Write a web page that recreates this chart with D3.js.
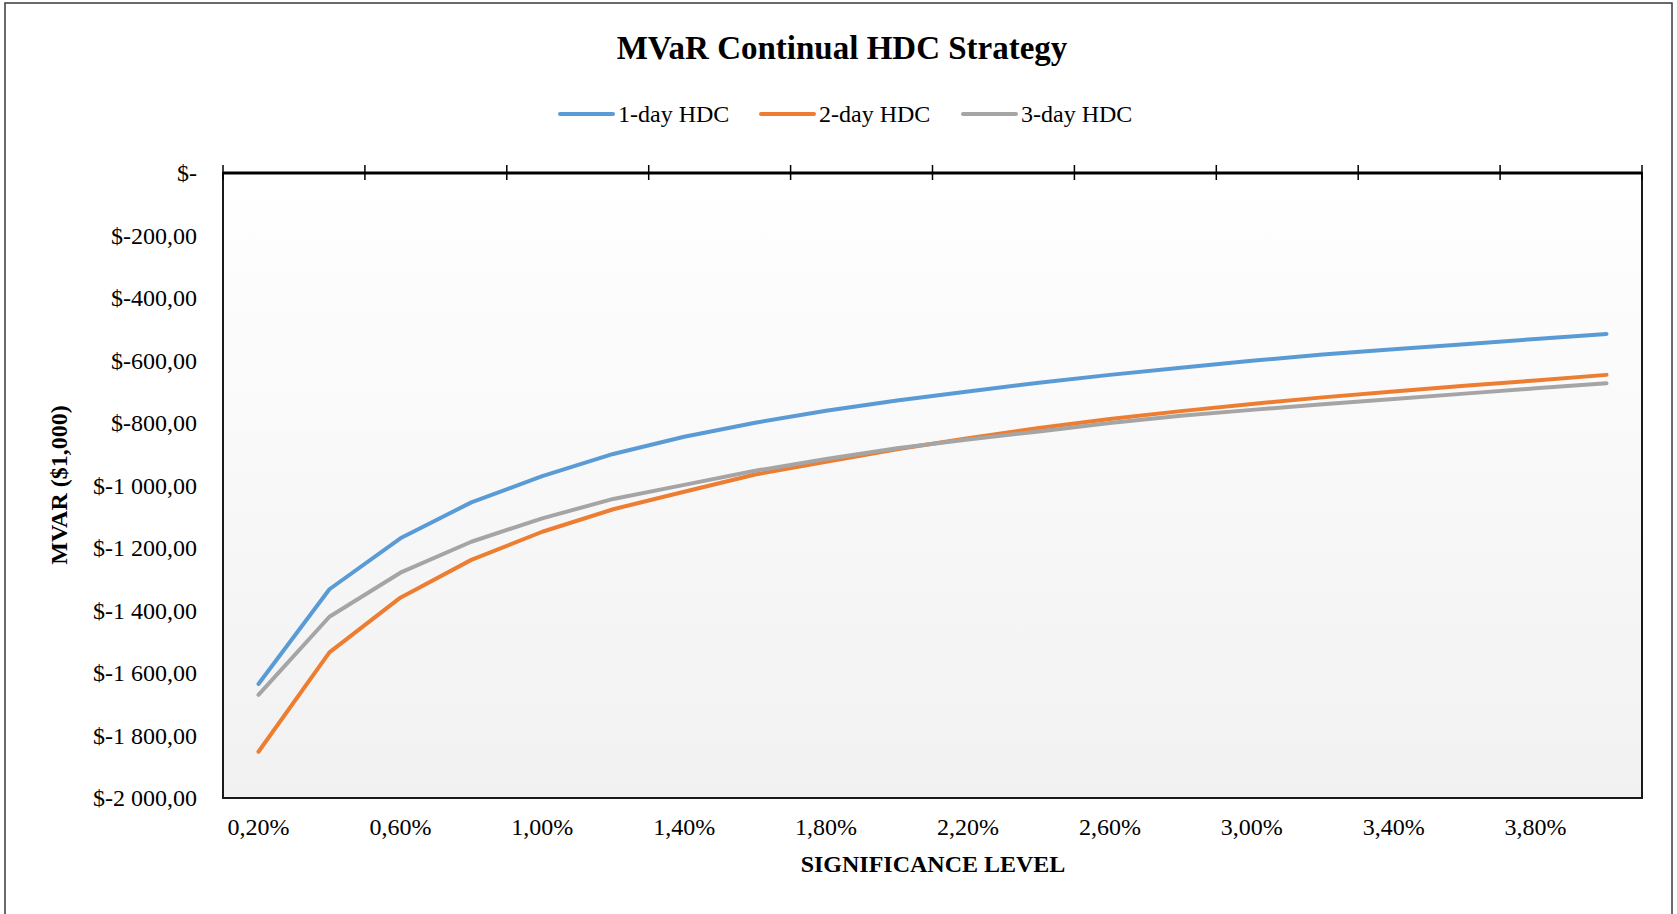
<!DOCTYPE html>
<html>
<head>
<meta charset="utf-8">
<script src="https://cdn.jsdelivr.net/npm/d3@7/dist/d3.min.js"></script>
<style>
  html, body { margin: 0; padding: 0; background: #ffffff; }
  svg { display: block; }
  text { font-family: "Liberation Serif", "Times New Roman", serif; fill: #000; }
</style>
</head>
<body>
<svg id="chart" width="1677" height="914"></svg>
<script>
// ---- data ----
const categories = ["0,20%","0,40%","0,60%","0,80%","1,00%","1,20%","1,40%","1,60%","1,80%","2,00%",
                    "2,20%","2,40%","2,60%","2,80%","3,00%","3,20%","3,40%","3,60%","3,80%","4,00%"];
const seriesNames = ["1-day HDC", "2-day HDC", "3-day HDC"];
const hdc1 = [-1635,-1332,-1169,-1054,-970,-899,-844,-799,-761,-728,-699,-671,-646,-623,-601,-581,-564,-548,-531,-515];
const hdc2 = [-1852,-1534,-1359,-1238,-1148,-1076,-1020,-965,-924,-884,-849,-816,-787,-762,-739,-718,-699,-681,-664,-646];
const hdc3 = [-1670,-1420,-1279,-1180,-1105,-1043,-998,-953,-915,-881,-853,-827,-800,-777,-758,-740,-723,-706,-689,-673];
const yTicks = [0,-200,-400,-600,-800,-1000,-1200,-1400,-1600,-1800,-2000];
const colors = ["#5B9BD5", "#ED7D31", "#A5A5A5"];

// ---- layout ----
const svg = d3.select("#chart");
const W = 1677, H = 914;
const plot = {left: 223, right: 1642, top: 173, bottom: 798};

svg.append("rect").attr("x",0).attr("y",0).attr("width",W).attr("height",H).attr("fill","#fff");
// outer chart border
svg.append("rect").attr("x",5).attr("y",3).attr("width",1667).attr("height",1000)
  .attr("fill","none").attr("stroke","#3a3a3a").attr("stroke-width",1.5);

const x = d3.scaleBand().domain(categories).range([plot.left, plot.right]).padding(0);
const y = d3.scaleLinear().domain([-2000, 0]).range([plot.bottom, plot.top]);

// gradient background
const defs = svg.append("defs");
const grad = defs.append("linearGradient").attr("id","bg").attr("x1",0).attr("y1",0).attr("x2",0).attr("y2",1);
grad.append("stop").attr("offset","0%").attr("stop-color","#ffffff");
grad.append("stop").attr("offset","100%").attr("stop-color","#f1f1f1");

svg.append("rect").attr("x",plot.left).attr("y",plot.top)
  .attr("width",plot.right-plot.left).attr("height",plot.bottom-plot.top)
  .attr("fill","url(#bg)").attr("stroke","#1a1a1a").attr("stroke-width",2);

// title
svg.append("text").attr("x",842).attr("y",59).attr("text-anchor","middle")
  .attr("font-size",33).attr("font-weight","bold").text("MVaR Continual HDC Strategy");

// legend
const legendX = [560, 761, 963];
seriesNames.forEach((n,i) => {
  svg.append("line").attr("x1",legendX[i]).attr("x2",legendX[i]+53).attr("y1",114).attr("y2",114)
    .attr("stroke",colors[i]).attr("stroke-width",4).attr("stroke-linecap","round");
  svg.append("text").attr("x",legendX[i]+58).attr("y",122).attr("font-size",24).text(n);
});

// y axis labels
const locale = d3.formatLocale({decimal: ",", thousands: " ", grouping: [3], currency: ["$",""]});
const fnum = locale.format(",.2f");
const fmtY = v => v === 0 ? "$-" : "$-" + fnum(Math.abs(v));
const yAxis = d3.axisLeft(y).tickValues(yTicks).tickFormat(fmtY).tickSize(0).tickPadding(26);
const gy = svg.append("g").attr("transform",`translate(${plot.left},0)`).call(yAxis);
gy.select(".domain").remove();
gy.selectAll("text").attr("font-size",24).attr("font-family","Liberation Serif").attr("fill","#000");

// x axis (at y=0, top) line and cross ticks
const tickCats = categories.filter((d,i) => i % 2 === 0);
const gx = svg.append("g").attr("transform",`translate(0,${y(0)})`);
gx.append("line").attr("x1",plot.left).attr("x2",plot.right).attr("y1",0).attr("y2",0)
  .attr("stroke","#000").attr("stroke-width",3);
const boundaries = tickCats.map(c => x(c)).concat([plot.right]);
gx.selectAll("line.tick").data(boundaries).enter().append("line").attr("class","tick")
  .attr("x1",d=>d).attr("x2",d=>d).attr("y1",-8).attr("y2",7)
  .attr("stroke","#000").attr("stroke-width",1.5);

// x labels at bottom
const xBottom = d3.axisBottom(x).tickValues(tickCats).tickSize(0).tickPadding(20);
const gxb = svg.append("g").attr("transform",`translate(0,${plot.bottom})`).call(xBottom);
gxb.select(".domain").remove();
gxb.selectAll("text").attr("font-size",24).attr("font-family","Liberation Serif").attr("fill","#000");

// axis titles
svg.append("text").attr("x",933).attr("y",872).attr("text-anchor","middle")
  .attr("font-size",24).attr("font-weight","bold").text("SIGNIFICANCE LEVEL");
svg.append("text").attr("transform","translate(67,485) rotate(-90)").attr("text-anchor","middle")
  .attr("font-size",24).attr("font-weight","bold").text("MVAR ($1,000)");

// lines
const line = d3.line().x((d,i) => x(categories[i]) + x.bandwidth()/2).y(d => y(d));
[hdc1, hdc2, hdc3].forEach((s,i) => {
  svg.append("path").datum(s).attr("d", line).attr("fill","none")
    .attr("stroke",colors[i]).attr("stroke-width",4)
    .attr("stroke-linejoin","round").attr("stroke-linecap","round");
});
</script>
</body>
</html>
